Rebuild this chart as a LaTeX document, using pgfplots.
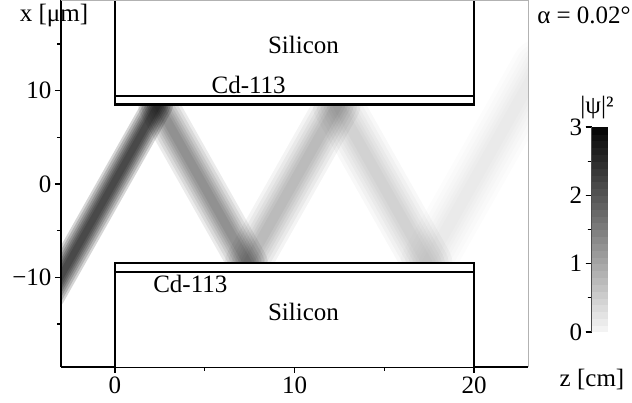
\documentclass[border=0pt]{standalone}
\usepackage{fontspec}
\setmainfont{Liberation Serif}
\usepackage{pgfplots}
\pgfplotsset{compat=1.18}
% one beam segment drawn as stacked strokes (data: end points, width, opacity)
\newcommand{\beamseg}[3]{%
\addplot[black, line cap=round, opacity=#3, line width=#2pt] coordinates {#1};
\addplot[black, line cap=round, opacity=#3, line width=0.85*#2pt] coordinates {#1};
\addplot[black, line cap=round, opacity=#3, line width=0.7*#2pt] coordinates {#1};
\addplot[black, line cap=round, opacity=#3, line width=0.57*#2pt] coordinates {#1};
\addplot[black, line cap=round, opacity=#3, line width=0.45*#2pt] coordinates {#1};
\addplot[black, line cap=round, opacity=#3, line width=0.34*#2pt] coordinates {#1};
\addplot[black, line cap=round, opacity=#3, line width=0.22*#2pt] coordinates {#1};
}
\begin{document}
\begin{tikzpicture}[font=\fontsize{25}{30}\selectfont]
\begin{axis}[name=main, scale only axis, width=467pt, height=367pt,
  xmin=-3, xmax=23, ymin=-19.6, ymax=19.7,
  axis x line*=bottom, axis y line*=left,
  axis line style={line width=2pt, black},
  xtick={0,10,20}, xticklabels={0,10,20}, minor xtick={5,15},
  ytick={-10,0,10}, yticklabels={−10,0,10}, minor ytick={-15,-5,5,15},
  tick align=outside, major tick length=6pt, minor tick length=4pt,
  tick style={black, line width=1.5pt},
  ticklabel style={font=\fontsize{25}{30}\selectfont},
  /pgf/number format/assume math mode=true,
  colormap={bw}{gray(0cm)=(0.97); gray(1cm)=(0.02)},
  point meta min=0, point meta max=3,
  colorbar sampled,
  colorbar style={name=cb, at={(parent axis.south east)}, anchor=south west,
    xshift=55pt, yshift=35pt, width=17pt, height=205pt, samples=31,
    ytick={0,1,2,3}, minor ytick={0.5,1.5,2.5},
    ytick pos=left, yticklabel pos=left,
    tick align=outside, major tick length=6pt, minor tick length=4pt,
    tick style={black, line width=1.2pt},
    axis line style={draw=none},
    /pgf/number format/assume math mode=true,
    yticklabel style={font=\fontsize{25}{30}\selectfont}},
]
% beam (zig-zag between the mirrors)
\beamseg{(-3.6,-11.9) (2.4,8.5)}{30}{0.165}
\beamseg{(2.4,8.5) (7.4,-8.5)}{40}{0.078}
\beamseg{(7.4,-8.5) (12.4,8.5)}{46}{0.045}
\beamseg{(12.4,8.5) (17.4,-8.5)}{50}{0.027}
\beamseg{(17.4,-8.5) (23.6,12.6)}{54}{0.012}
% mirrors
\addplot[fill=white, draw=black, line width=2.2pt] coordinates {(0,25) (0,8.5) (20,8.5) (20,25)} -- cycle;
\addplot[fill=white, draw=black, line width=2.2pt] coordinates {(0,-25) (0,-8.5) (20,-8.5) (20,-25)} -- cycle;
\addplot[black, line width=2.2pt] coordinates {(0,9.45) (20,9.45)};
\addplot[black, line width=2.2pt] coordinates {(0,-9.45) (20,-9.45)};
\node at (axis cs:10.5,14.9) {Silicon};
\node at (axis cs:7.45,10.6) {Cd-113};
\node at (axis cs:4.2,-10.7) {Cd-113};
\node at (axis cs:10.5,-13.7) {Silicon};
\end{axis}
\draw[gray!60, line width=0.8pt] (main.north west) -- (main.north east) -- (main.south east);
\draw[black!70, line width=0.6pt] (cb.south west) -- (cb.north west);
\node at ([xshift=-7pt,yshift=-16pt]main.north west) {x [μm]};
\node at ([xshift=56pt,yshift=-15pt]main.north east) {α = 0.02°};
\node at ([xshift=64pt,yshift=-13pt]main.south east) {z [cm]};
\node at ([xshift=-3pt,yshift=19pt]cb.north) {|ψ|²};
\pgfresetboundingbox
\path[use as bounding box] ([xshift=-61pt,yshift=-36pt]main.south west) rectangle ++(632pt,403pt);
\end{tikzpicture}
\end{document}
